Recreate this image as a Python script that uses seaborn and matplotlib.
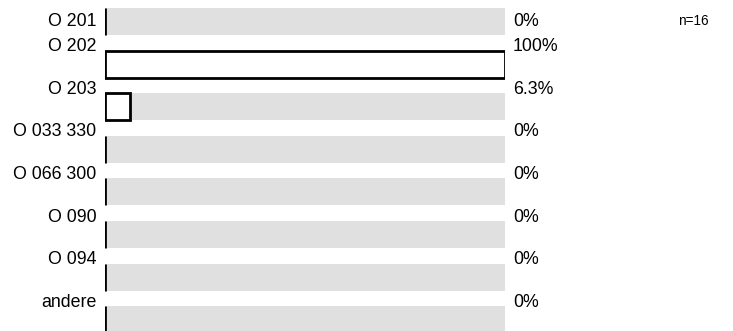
import matplotlib
matplotlib.use("Agg")
import matplotlib.pyplot as plt
import matplotlib.transforms as mtransforms
import seaborn as sns
import pandas as pd

# data
categories = ["O 201", "O 202", "O 203", "O 033 330", "O 066 300", "O 090", "O 094", "andere"]
percent = [0, 100, 6.3, 0, 0, 0, 0, 0]
pct_labels = ["0%", "100%", "6.3%", "0%", "0%", "0%", "0%", "0%"]
n_total = 16

df = pd.DataFrame({"cat": categories, "pct": percent, "full": [100] * len(categories)})

sns.set_theme(style="white")
plt.rcParams["font.family"] = ["Liberation Sans", "DejaVu Sans"]
plt.rcParams["text.color"] = "black"

W, H = 733, 331
fig = plt.figure(figsize=(W / 100, H / 100), dpi=100)
# axes spans x 105..505 px, full height
ax = fig.add_axes([105 / W, 0, 400 / W, 1])

bar_w = 0.634
sns.barplot(data=df, x="full", y="cat", order=categories, color="#e0e0e0",
            width=bar_w, ax=ax, linewidth=0, saturation=1)
sns.barplot(data=df, x="pct", y="cat", order=categories, color="white",
            width=bar_w, ax=ax, edgecolor="black", linewidth=2.0, saturation=1)

ax.set_xlim(0, 100)
ax.set_ylim(7.265, -0.505)
ax.set_axis_off()

trans = mtransforms.blended_transform_factory(ax.transAxes, ax.transData)
for i, (cat, lab) in enumerate(zip(categories, pct_labels)):
    y = 0 if i == 0 else i - 0.41
    ax.text(-0.022, y, cat, transform=trans, ha="right", va="center", fontsize=12.8)
    ax.text(1.02, y, lab, transform=trans, ha="left", va="center", fontsize=12.8)

fig.text(678 / W, 1 - 21 / H, f"n={n_total}", ha="left", va="center", fontsize=9.8)

fig.savefig("out.png", dpi=100)
